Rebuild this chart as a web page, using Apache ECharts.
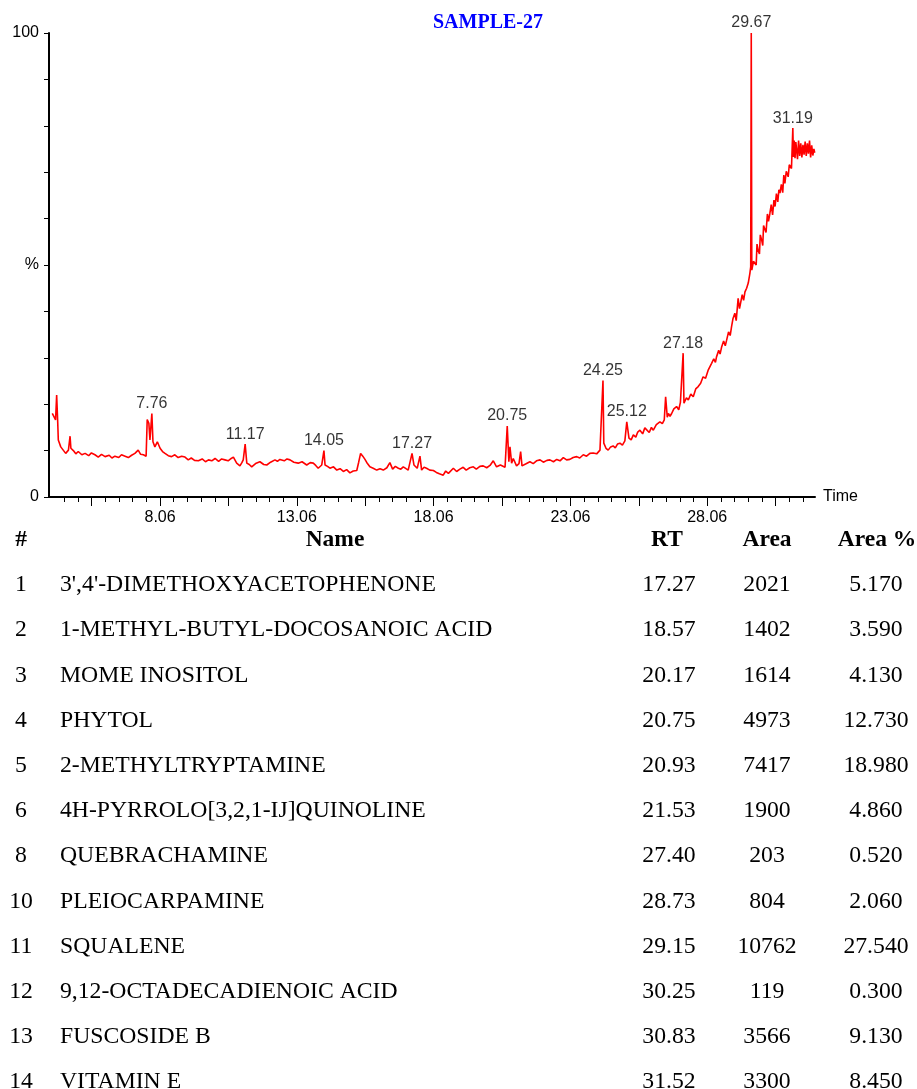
<!DOCTYPE html>
<html>
<head>
<meta charset="utf-8">
<title>SAMPLE-27</title>
<script src="https://cdn.jsdelivr.net/npm/echarts@6/dist/echarts.min.js"></script>
<style>
html, body { margin: 0; padding: 0; background: #fff; }
#chart { width: 917px; height: 1089px; }
</style>
</head>
<body>
<div id="chart"></div>
<script>
// chromatogram: retention time (min) / relative intensity (%)
var retTimes = [
  4.12, 4.19, 4.24, 4.28, 4.32, 4.34, 4.43, 4.52, 4.61, 4.71, 4.77, 4.80, 4.89, 4.98, 5.07, 5.20, 5.32, 5.45, 5.55, 5.68,
  5.80, 5.92, 6.05, 6.20, 6.30, 6.41, 6.55, 6.65, 6.78, 6.90, 7.02, 7.14, 7.26, 7.35, 7.45, 7.55, 7.59, 7.65, 7.69, 7.76,
  7.80, 7.87, 7.96, 8.06, 8.15, 8.24, 8.36, 8.48, 8.60, 8.72, 8.85, 8.97, 9.09, 9.20, 9.32, 9.46, 9.60, 9.72, 9.83, 9.95,
  10.07, 10.20, 10.31, 10.43, 10.55, 10.66, 10.74, 10.86, 10.98, 11.05, 11.10, 11.17, 11.23, 11.32, 11.41, 11.55, 11.71, 11.85, 11.96, 12.10,
  12.26, 12.35, 12.44, 12.60, 12.70, 12.81, 12.95, 13.11, 13.25, 13.42, 13.55, 13.66, 13.75, 13.84, 13.97, 14.05, 14.09, 14.18, 14.27, 14.40,
  14.52, 14.64, 14.76, 14.88, 15.00, 15.12, 15.25, 15.32, 15.39, 15.47, 15.55, 15.64, 15.73, 15.85, 15.98, 16.10, 16.22, 16.35, 16.46, 16.56,
  16.66, 16.77, 16.86, 16.95, 17.05, 17.13, 17.27, 17.34, 17.46, 17.56, 17.62, 17.71, 17.80, 17.92, 18.05, 18.16, 18.27, 18.41, 18.50, 18.60,
  18.78, 18.90, 19.02, 19.14, 19.25, 19.38, 19.51, 19.62, 19.75, 19.87, 20.00, 20.12, 20.24, 20.36, 20.50, 20.67, 20.75, 20.81, 20.85, 20.91,
  20.97, 21.09, 21.18, 21.24, 21.29, 21.42, 21.58, 21.70, 21.82, 21.95, 22.07, 22.20, 22.31, 22.44, 22.56, 22.68, 22.80, 22.92, 23.04, 23.16,
  23.29, 23.40, 23.53, 23.65, 23.77, 23.89, 24.02, 24.14, 24.25, 24.28, 24.36, 24.44, 24.53, 24.62, 24.70, 24.78, 24.87, 24.96, 25.05, 25.12,
  25.20, 25.28, 25.36, 25.45, 25.52, 25.60, 25.70, 25.78, 25.85, 25.94, 26.02, 26.09, 26.20, 26.33, 26.42, 26.49, 26.54, 26.60, 26.64, 26.70,
  26.76, 26.84, 26.94, 27.02, 27.08, 27.13, 27.18, 27.21, 27.30, 27.37, 27.46, 27.55, 27.64, 27.73, 27.82, 27.91, 28.00, 28.10, 28.16, 28.22,
  28.30, 28.36, 28.40, 28.48, 28.53, 28.59, 28.66, 28.72, 28.77, 28.84, 28.90, 28.95, 29.00, 29.07, 29.12, 29.19, 29.24, 29.28, 29.34, 29.39,
  29.44, 29.50, 29.56, 29.62, 29.65, 29.67, 29.69, 29.75, 29.80, 29.85, 29.88, 29.92, 29.97, 30.00, 30.05, 30.09, 30.12, 30.17, 30.21, 30.26,
  30.30, 30.35, 30.40, 30.45, 30.50, 30.54, 30.59, 30.64, 30.68, 30.72, 30.77, 30.82, 30.86, 30.90, 30.95, 31.02, 31.06, 31.11, 31.14, 31.19,
  31.21, 31.24, 31.27, 31.30, 31.33, 31.36, 31.40, 31.44, 31.48, 31.52, 31.56, 31.60, 31.64, 31.68, 31.72, 31.76, 31.80, 31.84, 31.88, 31.92,
  31.96, 31.99
];
var intensity = [
  18.0, 17.7, 16.6, 22.0, 15.9, 12.3, 10.8, 10.1, 9.4, 10.1, 13.1, 10.5, 10.0, 9.3, 9.8, 9.1, 9.4, 8.9, 9.5, 9.1,
  8.6, 9.2, 8.7, 9.0, 8.4, 8.8, 8.5, 9.1, 8.8, 8.5, 9.0, 9.4, 10.1, 9.2, 9.1, 8.8, 16.7, 15.9, 12.3, 18.0,
  11.9, 10.8, 11.9, 10.5, 9.8, 9.4, 8.9, 8.7, 9.1, 8.5, 8.8, 8.6, 8.0, 8.4, 7.9, 7.8, 8.2, 7.6, 8.0, 7.8,
  8.3, 7.7, 8.2, 8.0, 7.8, 8.3, 8.6, 7.3, 6.7, 7.4, 8.0, 11.4, 7.3, 7.0, 6.5, 7.2, 7.6, 7.0, 6.9, 7.5,
  8.0, 7.7, 8.1, 7.8, 8.2, 8.0, 7.5, 7.3, 7.6, 6.9, 7.4, 7.3, 6.8, 6.2, 6.9, 10.0, 6.9, 6.6, 6.2, 6.5,
  5.8, 6.1, 5.5, 5.9, 5.2, 5.6, 5.7, 7.5, 9.4, 8.8, 8.1, 7.2, 6.5, 6.2, 5.8, 6.1, 5.8, 6.3, 7.4, 6.0,
  6.6, 6.2, 6.0, 6.5, 6.1, 5.8, 9.4, 6.9, 6.2, 8.8, 5.8, 6.4, 6.2, 5.8, 5.7, 5.3, 5.0, 4.7, 5.6, 5.1,
  6.2, 5.5, 6.0, 6.4, 5.8, 6.3, 6.5, 6.0, 6.6, 6.7, 6.3, 6.8, 7.8, 6.5, 6.9, 6.4, 15.3, 7.6, 10.8, 7.3,
  8.3, 6.7, 7.2, 9.8, 6.7, 7.1, 7.6, 7.2, 7.8, 8.0, 7.5, 7.9, 8.0, 7.6, 8.1, 7.8, 8.5, 8.0, 8.1, 8.5,
  8.7, 8.4, 9.1, 8.8, 9.4, 9.5, 9.3, 10.1, 25.1, 11.6, 10.5, 10.1, 10.8, 11.0, 10.6, 11.4, 11.6, 11.2, 12.1, 16.2,
  12.7, 12.3, 13.4, 12.9, 14.0, 14.4, 13.6, 14.9, 14.8, 13.9, 15.0, 14.4, 15.6, 16.2, 15.8, 16.6, 21.6, 17.2, 18.0, 17.4,
  18.0, 19.0, 19.5, 18.8, 20.4, 20.5, 31.0, 20.2, 21.4, 20.9, 22.2, 21.6, 23.3, 23.8, 24.5, 25.9, 25.6, 27.4, 27.0, 28.8,
  29.8, 29.0, 30.2, 31.6, 30.8, 32.4, 33.6, 32.6, 33.8, 35.6, 34.8, 36.7, 38.4, 39.6, 38.0, 42.8, 40.6, 40.3, 43.6, 42.4,
  44.2, 45.0, 46.1, 48.2, 49.6, 100, 48.9, 50.8, 51.1, 50.0, 54.5, 53.2, 52.4, 56.5, 55.4, 54.2, 58.5, 58.3, 57.0, 61.0,
  59.4, 61.1, 63.0, 60.8, 64.0, 62.6, 65.4, 63.6, 66.2, 65.5, 67.4, 65.6, 69.4, 67.6, 70.2, 69.0, 71.6, 71.9, 70.8, 79.5,
  73.3, 76.8, 73.0, 76.5, 76.2, 72.8, 76.8, 73.5, 76.2, 73.2, 75.9, 73.8, 76.6, 73.5, 76.2, 74.0, 76.8, 73.2, 75.8, 73.6,
  75.0, 74.2
];
var peakTimes = [7.76, 11.17, 14.05, 17.27, 20.75, 24.25, 25.12, 27.18, 29.67, 31.19];
var timeLabels = [8.06, 13.06, 18.06, 23.06, 28.06];

// peak table
var rowNo = [1, 2, 3, 4, 5, 6, 8, 10, 11, 12, 13, 14];
var compoundNames = [
  "3',4'-DIMETHOXYACETOPHENONE",
  "1-METHYL-BUTYL-DOCOSANOIC ACID",
  "MOME INOSITOL",
  "PHYTOL",
  "2-METHYLTRYPTAMINE",
  "4H-PYRROLO[3,2,1-IJ]QUINOLINE",
  "QUEBRACHAMINE",
  "PLEIOCARPAMINE",
  "SQUALENE",
  "9,12-OCTADECADIENOIC ACID",
  "FUSCOSIDE B",
  "VITAMIN E"
];
var rtValues = [17.27, 18.57, 20.17, 20.75, 20.93, 21.53, 27.40, 28.73, 29.15, 30.25, 30.83, 31.52];
var areaValues = [2021, 1402, 1614, 4973, 7417, 1900, 203, 804, 10762, 119, 3566, 3300];
var areaPercent = [5.17, 3.59, 4.13, 12.73, 18.98, 4.86, 0.52, 2.06, 27.54, 0.30, 9.13, 8.45];

var sans = '"Liberation Sans", Arial, sans-serif';
var serif = '"Liberation Serif", "Times New Roman", serif';

// tick marks: short every 0.5 min, longer every 2.5 min
var shortTicks = [], longTicks = [];
for (var k = 0; k < 55; k++) shortTicks.push(Math.round((4.56 + k * 0.5) * 100) / 100);
for (var j = 0; j < 11; j++) longTicks.push(Math.round((5.56 + j * 2.5) * 100) / 100);

var lineData = retTimes.map(function (t, i) { return [t, intensity[i]]; });
var peakData = peakTimes.map(function (t) { return [t, intensity[retTimes.indexOf(t)]]; });

function txt(x, y, s, font, align, color) {
  return {
    type: 'text', x: x, y: y, silent: true,
    style: { text: s, font: font, fill: color || '#000', align: align, textAlign: align, verticalAlign: 'middle', textVerticalAlign: 'middle' }
  };
}

var headFont = 'bold 23.5px ' + serif;
var rowFont = '23.7px ' + serif;
var graphics = [
  txt(488, 23, 'SAMPLE-27', 'bold 20px ' + serif, 'center', '#0000ff'),
  txt(21, 540, '#', headFont, 'center'),
  txt(335, 540, 'Name', headFont, 'center'),
  txt(667, 540, 'RT', headFont, 'center'),
  txt(767, 540, 'Area', headFont, 'center'),
  txt(877, 540, 'Area %', headFont, 'center')
];
rowNo.forEach(function (n, i) {
  var y = 585 + i * 45.2;
  graphics.push(txt(21, y, String(n), rowFont, 'center'));
  graphics.push(txt(60, y, compoundNames[i], rowFont, 'left'));
  graphics.push(txt(669, y, rtValues[i].toFixed(2), rowFont, 'center'));
  graphics.push(txt(767, y, String(areaValues[i]), rowFont, 'center'));
  graphics.push(txt(876, y, areaPercent[i].toFixed(3), rowFont, 'center'));
});

var myChart = echarts.init(document.getElementById('chart'));
var option = {
  animation: false,
  backgroundColor: '#fff',
  grid: { left: 49, right: 102, top: 33, bottom: 592 },
  xAxis: [
    {
      type: 'value', min: 4, max: 32, position: 'bottom',
      name: 'Time', nameLocation: 'end', nameGap: 8,
      nameTextStyle: { color: '#000', fontSize: 16, fontFamily: sans },
      axisLine: { lineStyle: { color: '#000', width: 2 } },
      axisTick: { customValues: shortTicks, length: 5, lineStyle: { color: '#000', width: 1 } },
      axisLabel: {
        customValues: timeLabels, margin: 13, color: '#000', fontSize: 16, fontFamily: sans,
        formatter: function (v) { return v.toFixed(2); }
      },
      splitLine: { show: false }
    },
    {
      type: 'value', min: 4, max: 32, position: 'bottom',
      axisLine: { show: false },
      axisTick: { customValues: longTicks, length: 9, lineStyle: { color: '#000', width: 1 } },
      axisLabel: { show: false },
      splitLine: { show: false }
    }
  ],
  yAxis: {
    type: 'value', min: 0, max: 100, interval: 10,
    axisLine: { show: true, lineStyle: { color: '#000', width: 2 } },
    axisTick: { show: true, length: 5, lineStyle: { color: '#000', width: 1 } },
    axisLabel: {
      margin: 10, color: '#000', fontSize: 16, fontFamily: sans,
      formatter: function (v) { return v === 100 ? '100' : (v === 50 ? '%' : (v === 0 ? '0' : '')); }
    },
    splitLine: { show: false }
  },
  series: [
    {
      type: 'line', data: lineData, showSymbol: false, symbol: 'none',
      lineStyle: { color: '#ff0000', width: 1.6 }, z: 3
    },
    {
      type: 'scatter', data: peakData, symbolSize: 0, z: 4,
      label: {
        show: true, position: 'top', distance: 2, color: '#000', fontSize: 16, fontFamily: sans,
        formatter: function (p) { return p.value[0].toFixed(2); }
      }
    }
  ],
  graphic: graphics
};
myChart.setOption(option);
</script>
</body>
</html>
